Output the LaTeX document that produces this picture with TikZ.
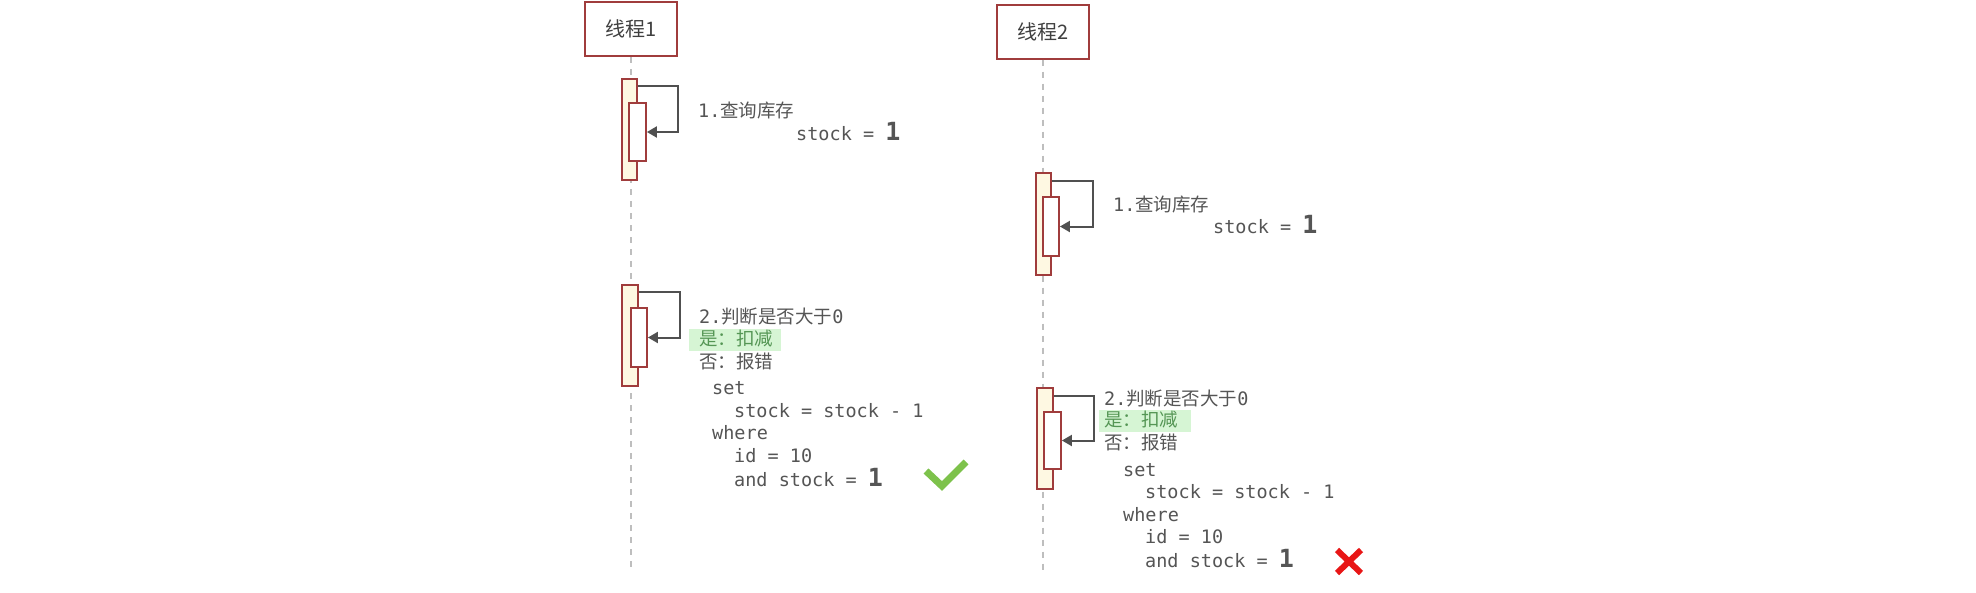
\documentclass[tikz,border=0pt]{standalone}
\usepackage{fontspec}
\setmonofont{DejaVu Sans Mono}
\newfontfamily\cjk{Noto Sans CJK SC}
\usetikzlibrary{arrows.meta}
\definecolor{bord}{RGB}{160,60,60}
\definecolor{actfill}{RGB}{254,248,226}
\definecolor{msgc}{RGB}{80,80,80}
\definecolor{lifec}{RGB}{190,190,190}
\definecolor{txt}{RGB}{85,85,85}
\definecolor{hl}{RGB}{214,245,212}
\definecolor{hltxt}{RGB}{85,150,85}
\definecolor{okc}{RGB}{125,194,75}
\definecolor{noc}{RGB}{232,22,22}
\newcommand{\mf}{\ttfamily\fontsize{18.5}{22}\selectfont}
\newcommand{\cf}{\cjk\fontsize{18.5}{22}\selectfont}
\newcommand{\bigone}{{\ttfamily\bfseries\fontsize{25}{25}\selectfont 1}}
\begin{document}
\begin{tikzpicture}[x=1pt,y=-1pt,
  head/.style={draw=bord,line width=2pt,fill=white,minimum width=92pt,minimum height=54pt,inner sep=0pt,text=black!75,font=\cjk\fontsize{20}{22}\selectfont},
  life/.style={draw=lifec,line width=2pt,dash pattern=on 6pt off 6pt},
  act/.style={draw=bord,line width=1.8pt,fill=actfill,inner sep=0pt},
  acti/.style={draw=bord,line width=1.8pt,fill=white,inner sep=0pt},
  msg/.style={draw=msgc,line width=2pt,-{Triangle[length=10pt,width=11pt]}},
  lbl/.style={anchor=west,inner sep=0pt,text=txt,font=\mf,text height=14pt,text depth=5pt},
  hlbox/.style={anchor=west,fill=hl,inner sep=0pt,minimum height=22pt,text width=92pt},
]
\useasboundingbox[fill=white] (0,0) rectangle (1976,592);

% headers
\node[head] (t1) at (631,29) {线程1};
\node[head] (t2) at (1043,31.5) {线程2};
\coordinate (e1) at (631,568);
\coordinate (e2) at (1043,572);
\draw[life] (t1.south) -- (e1);
\draw[life] (t2.south) -- (e2);

% thread 1 activations
\node[act,minimum width=15pt,minimum height=101pt] (a1o) at (629.5,129.5) {};
\node[acti,minimum width=17pt,minimum height=58pt] (a1i) at (637.5,132) {};
\draw[msg] ([yshift=-8pt]a1o.north east) -- ([xshift=40pt,yshift=-8pt]a1o.north east) |- (a1i.east);

\node[act,minimum width=16pt,minimum height=101pt] (b1o) at (630,335.5) {};
\node[acti,minimum width=16pt,minimum height=59pt] (b1i) at (639,337.5) {};
\draw[msg] ([yshift=-8pt]b1o.north east) -- ([xshift=41pt,yshift=-8pt]b1o.north east) |- (b1i.east);

% thread 2 activations
\node[act,minimum width=15pt,minimum height=102pt] (a2o) at (1043.5,224) {};
\node[acti,minimum width=16pt,minimum height=59pt] (a2i) at (1051,226.5) {};
\draw[msg] ([yshift=-9pt]a2o.north east) -- ([xshift=41pt,yshift=-9pt]a2o.north east) |- (a2i.east);

\node[act,minimum width=16pt,minimum height=101pt] (b2o) at (1045,438.5) {};
\node[acti,minimum width=17pt,minimum height=57pt] (b2i) at (1052.5,440.5) {};
\draw[msg] ([yshift=-9pt]b2o.north east) -- ([xshift=40pt,yshift=-9pt]b2o.north east) |- (b2i.east);

% thread 1 texts
\node[lbl] (l1a) at (698,113) {1.{\cf 查询库存}};
\node[lbl] (l1b) at (796,136) {stock = \bigone};
\node[lbl] (l1c) at (699,319) {2.{\cf 判断是否大于}0};
\node[hlbox] (h1) at (689,340) {};
\node[lbl,text=hltxt] (l1d) at (699,341) {\cf 是：扣减};
\node[lbl] (l1e) at (699,364) {\cf 否：报错};
\node[lbl] (l1f) at (712,390) {set};
\node[lbl] (l1g) at (734,413) {stock = stock - 1};
\node[lbl] (l1h) at (712,435) {where};
\node[lbl] (l1i) at (734,458) {id = 10};
\node[lbl] (l1j) at (734,482) {and stock = \bigone};

% thread 2 texts
\node[lbl] (l2a) at (1113,207) {1.{\cf 查询库存}};
\node[lbl] (l2b) at (1213,229) {stock = \bigone};
\node[lbl] (l2c) at (1104,401) {2.{\cf 判断是否大于}0};
\node[hlbox] (h2) at (1099,421) {};
\node[lbl,text=hltxt] (l2d) at (1104,422) {\cf 是：扣减};
\node[lbl] (l2e) at (1104,445) {\cf 否：报错};
\node[lbl] (l2f) at (1123,472) {set};
\node[lbl] (l2g) at (1145,494) {stock = stock - 1};
\node[lbl] (l2h) at (1123,517) {where};
\node[lbl] (l2i) at (1145,539) {id = 10};
\node[lbl] (l2j) at (1145,563) {and stock = \bigone};

% check mark and cross
\draw[okc,line width=7pt,line join=miter] (926,471) -- (942,486) -- (966,462);
\draw[noc,line width=6pt] (1337,550) -- (1361,573) (1361,550) -- (1337,573);
\end{tikzpicture}
\end{document}
